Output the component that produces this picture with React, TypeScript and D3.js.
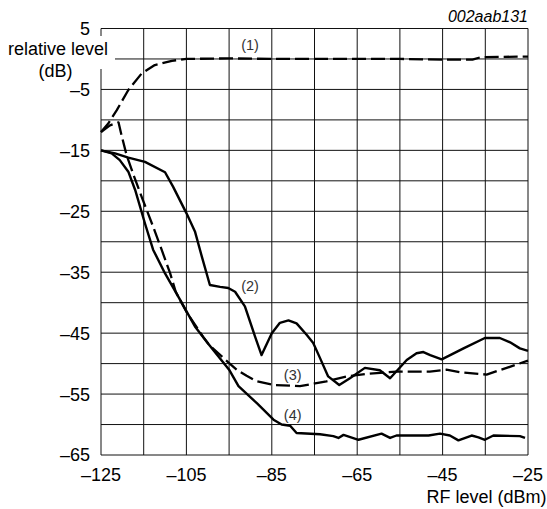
import { useEffect, useRef } from 'react';
import * as d3 from 'd3';

type Pt = [number, number];

// RF level (dBm), relative level (dB)
const curve1: Pt[] = [
  [-125, -12], [-123.3, -10.6], [-121.3, -8.4], [-118.6, -5.1], [-115.5, -2.4], [-112.4, -1.0],
  [-108.4, -0.3], [-105, 0], [-95, 0.1], [-85, 0], [-75, 0], [-65, 0], [-55, 0], [-45, -0.1],
  [-38, -0.1], [-36, 0.3], [-25, 0.4]
];

const curve2: Pt[] = [
  [-125, -15], [-121.7, -15.5], [-118.6, -16.2], [-114.7, -16.9], [-110, -18.6], [-108.1, -21],
  [-105, -25.3], [-103, -28.3], [-101.4, -32.4], [-99.5, -37.1], [-97.1, -37.4], [-95.2, -37.6],
  [-93.6, -38.2], [-91.3, -40.6], [-88.9, -45.6], [-87.4, -48.6], [-85, -45], [-83.1, -43.3],
  [-81.1, -42.9], [-79.2, -43.4], [-76.8, -45.3], [-75.3, -46.6], [-73.7, -49.1], [-71.8, -52.1],
  [-69.2, -53.5], [-66.7, -52.4], [-63.2, -50.7], [-59.7, -51.1], [-57.3, -52.4], [-53.4, -49.4],
  [-51.1, -48.3], [-49.5, -48.1], [-47.9, -48.6], [-45.2, -49.3], [-40.1, -47.5], [-35.1, -45.8],
  [-31.6, -45.8], [-29.2, -46.5], [-26.9, -47.5], [-25, -47.9]
];

const curve3: Pt[] = [
  [-125, -12], [-122.9, -10.9], [-120.9, -10.4], [-120.2, -12.5], [-119, -15.8], [-117.4, -19],
  [-115.5, -22.6], [-112.8, -27.5], [-110.8, -31.3], [-108.8, -35.2], [-107.5, -38.2], [-105, -41.5],
  [-101, -45.7], [-99.7, -46.9], [-96.3, -49.1], [-93.2, -51], [-90.9, -52], [-88.5, -52.9],
  [-84.6, -53.5], [-78.4, -53.7], [-72.2, -52.9], [-67.5, -52.1], [-62.8, -51.7], [-55.8, -51.3],
  [-48, -51.3], [-44.1, -51], [-40.9, -51.4], [-34.7, -51.8], [-30, -50.7], [-25, -49.5]
];

const curve4: Pt[] = [
  [-125, -15], [-122.5, -15.5], [-120.6, -16.6], [-118.6, -18.5], [-117, -21.5], [-114.7, -27],
  [-112.8, -31.3], [-110, -35.2], [-106.9, -39], [-103, -43.9], [-99.7, -46.9], [-95, -51],
  [-92.8, -53.7], [-88.5, -56.5], [-84.6, -59.2], [-82.7, -60], [-80.7, -60.2], [-79.2, -61.4],
  [-73.7, -61.6], [-70.6, -61.9], [-69.4, -62.2], [-68.2, -61.7], [-64.7, -62.5], [-59.3, -61.5],
  [-57.3, -62.2], [-55.8, -61.8], [-48.3, -61.8], [-45.6, -61.5], [-43.3, -61.8], [-41.3, -62.6],
  [-38.2, -61.8], [-36.6, -62.1], [-35.1, -62.5], [-33.1, -61.8], [-26.9, -61.9], [-25.7, -62.2]
];

const xTickLabels = [-125, -105, -85, -65, -45, -25];
const yTickLabels = [5, -5, -15, -25, -35, -45, -55, -65];

const curveLabels = ['(1)', '(2)', '(3)', '(4)'];
const curveLabelPos: Pt[] = [[-90.1, 2.3], [-90.1, -37.2], [-80.1, -51.8], [-80.1, -58.4]];

const W = 547;
const H = 509;
const FONT = '"Liberation Sans", Arial, Helvetica, sans-serif';

export default function App() {
  const svgRef = useRef<SVGSVGElement>(null);

  useEffect(() => {
    if (!svgRef.current) return;
    const svg = d3.select(svgRef.current);
    svg.selectAll('*').remove();

    const x = d3.scaleLinear().domain([-125, -25]).range([101, 528]);
    const y = d3.scaleLinear().domain([-65, 5]).range([455, 28.5]);

    // grid
    const grid = svg.append('g').attr('stroke', '#111').attr('stroke-width', 1);
    d3.range(-125, -24, 10).forEach(v => {
      grid.append('line')
        .attr('x1', x(v)).attr('x2', x(v))
        .attr('y1', y(5)).attr('y2', y(-65));
    });
    d3.range(5, -66, -5).forEach(v => {
      grid.append('line')
        .attr('x1', x(-125)).attr('x2', x(-25))
        .attr('y1', y(v)).attr('y2', y(v));
    });

    // white box behind the y axis title
    svg.append('rect')
      .attr('x', 0).attr('y', 36)
      .attr('width', 115).attr('height', 33)
      .attr('fill', '#fff');

    const line = d3.line<Pt>()
      .x(d => x(d[0]))
      .y(d => y(d[1]))
      .curve(d3.curveLinear);

    const curves: { data: Pt[]; dashed: boolean }[] = [
      { data: curve1, dashed: true },
      { data: curve3, dashed: true },
      { data: curve2, dashed: false },
      { data: curve4, dashed: false }
    ];

    curves.forEach(c => {
      svg.append('path')
        .datum(c.data)
        .attr('fill', 'none')
        .attr('stroke', '#000')
        .attr('stroke-width', c.dashed ? 2.3 : 2.4)
        .attr('stroke-dasharray', c.dashed ? '14,5' : null)
        .attr('stroke-linejoin', 'round')
        .attr('d', line);
    });

    // tick labels
    svg.append('g')
      .selectAll('text')
      .data(yTickLabels)
      .enter()
      .append('text')
      .attr('x', 90)
      .attr('y', d => y(d))
      .attr('dy', '0.36em')
      .attr('text-anchor', 'end')
      .attr('font-family', FONT)
      .attr('font-size', 18)
      .attr('fill', '#000')
      .text(d => (d < 0 ? '\u2013' + Math.abs(d) : String(d)));

    svg.append('g')
      .selectAll('text')
      .data(xTickLabels)
      .enter()
      .append('text')
      .attr('x', d => x(d))
      .attr('y', 481)
      .attr('text-anchor', 'middle')
      .attr('font-family', FONT)
      .attr('font-size', 18)
      .attr('fill', '#000')
      .text(d => '\u2013' + Math.abs(d));

    // axis titles
    svg.append('text')
      .attr('x', 108).attr('y', 55)
      .attr('text-anchor', 'end')
      .attr('font-family', FONT).attr('font-size', 18)
      .text('relative level');
    svg.append('text')
      .attr('x', 55.5).attr('y', 76.5)
      .attr('text-anchor', 'middle')
      .attr('font-family', FONT).attr('font-size', 18)
      .text('(dB)');
    svg.append('text')
      .attr('x', 546.5).attr('y', 503)
      .attr('text-anchor', 'end')
      .attr('font-family', FONT).attr('font-size', 18)
      .text('RF level (dBm)');
    svg.append('text')
      .attr('x', 528).attr('y', 22)
      .attr('text-anchor', 'end')
      .attr('font-family', FONT).attr('font-size', 16)
      .attr('font-style', 'italic')
      .text('002aab131');

    // curve labels
    svg.append('g')
      .selectAll('text')
      .data(curveLabels)
      .enter()
      .append('text')
      .attr('x', (_, i) => x(curveLabelPos[i][0]))
      .attr('y', (_, i) => y(curveLabelPos[i][1]))
      .attr('dy', '0.35em')
      .attr('text-anchor', 'middle')
      .attr('font-family', FONT)
      .attr('font-size', 14.5)
      .attr('fill', '#333')
      .text(d => d);
  }, []);

  return (
    <svg
      ref={svgRef}
      width={W}
      height={H}
      style={{ position: 'absolute', left: 0, top: 0, background: '#fff' }}
    />
  );
}
